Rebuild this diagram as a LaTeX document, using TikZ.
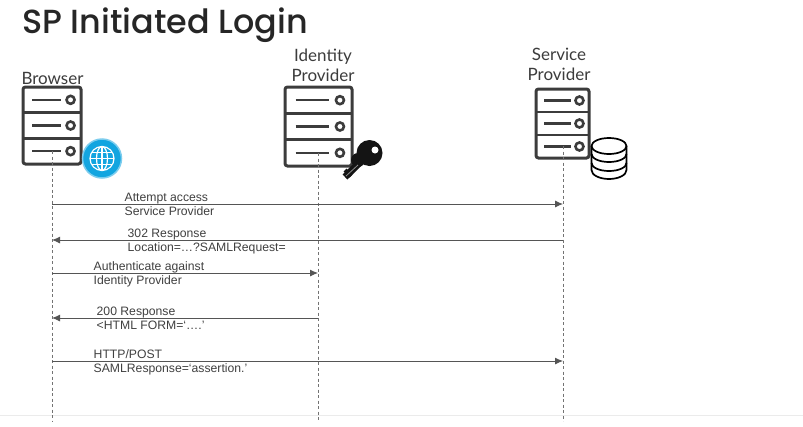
\documentclass[tikz,border=0pt]{standalone}
\usepackage{fontspec}
\setmainfont{Liberation Sans}
\newfontfamily\headfont{Poppins Medium}
\newfontfamily\labelfont{Lato}
\definecolor{ink}{HTML}{3C3C3C}
\definecolor{msg}{HTML}{555555}
\definecolor{bluecirc}{HTML}{12A5E0}
\usetikzlibrary{arrows.meta}
\tikzset{
  x=1pt,y=-1pt,
  titletext/.style={font=\headfont\fontsize{33.4}{34}\selectfont,text=black!85,inner sep=0,anchor=base west},
  actortext/.style={font=\labelfont\fontsize{17}{20}\selectfont,text=ink,inner sep=0,align=center,anchor=south},
  msgtext/.style={font=\fontsize{12.2}{14}\selectfont,text=black!75,inner sep=0,align=left,anchor=north west},
  lifeline/.style={draw=black!55,line width=0.7pt,dash pattern=on 3pt off 2.5pt},
  msgline/.style={draw=msg,line width=0.9pt,-{Latex[length=8pt,width=7pt]}},
  srvbox/.style={draw=ink,line width=3pt,rounded corners=2.5pt,inner sep=0,outer sep=0,fill=white},
  srvline/.style={draw=ink,line width=2.6pt},
  srvdot/.style={draw=ink,line width=2.6pt,circle,inner sep=0,minimum size=8pt,fill=white},
  dbline/.style={draw=black,line width=1.7pt},
}
% #1 name, #2 left, #3 top, #4 width, #5 height
\newcommand{\serverbox}[5]{%
  \node[srvbox,minimum width=#4pt,minimum height=#5pt,anchor=north west] (#1) at (#2,#3) {};
  \foreach \k/\s in {1/a,2/b,3/c}{
    \path (#1.north west) ++(0.16*#4,{(\k-0.5)*#5/3}) coordinate (#1l\s)
          ++(0.5*#4,0) coordinate (#1r\s);
    \node[srvdot] (#1d\s) at ([xshift=0.16*#4 pt]#1r\s) {};
    \draw[srvline] (#1l\s) -- (#1r\s);
  }
  \draw[srvline] ([yshift={-#5/3*1pt}]#1.north west) -- ([yshift={-#5/3*1pt}]#1.north east);
  \draw[srvline] ([yshift={-2*#5/3*1pt}]#1.north west) -- ([yshift={-2*#5/3*1pt}]#1.north east);
}
\begin{document}
\begin{tikzpicture}
\useasboundingbox (0,0) rectangle (803,426);
\fill[white] (0,0) rectangle (803,426);
\draw[black!8,line width=1pt] (0,415.5) -- (803,415.5);

\node[titletext] (title) at (22,33) {SP Initiated Login};

\serverbox{brow}{23}{87}{58}{77}
\serverbox{idp}{285}{87}{67}{79}
\serverbox{sp}{536}{89}{53}{69}

\node[actortext] (browl) at (52.5,84.5) {Browser};
\node[actortext] (idpl) at (323,82) {Identity\\Provider};
\node[actortext] (spl) at (559,80.5) {Service\\Provider};

% globe
\node[circle,fill=bluecirc,draw=bluecirc!55,line width=1.5pt,minimum size=39pt,inner sep=0] (globe) at (102,158.5) {};
\begin{scope}[white,line width=1.2pt]
  \draw (globe.center) circle[radius=12];
  \draw (globe.center) ellipse[x radius=5.5,y radius=12];
  \draw ([xshift=-12pt]globe.center) -- ([xshift=12pt]globe.center);
  \draw ([xshift=-10.4pt,yshift=6pt]globe.center) -- ([xshift=10.4pt,yshift=6pt]globe.center);
  \draw ([xshift=-10.4pt,yshift=-6pt]globe.center) -- ([xshift=10.4pt,yshift=-6pt]globe.center);
  \draw ([yshift=-12pt]globe.center) -- ([yshift=12pt]globe.center);
\end{scope}

% key
\coordinate (keyhead) at (369.5,153);
\coordinate (keytip) at (345,177);
\draw[black!92,line width=7pt] (keyhead) -- (keytip);
\draw[black!92,line width=4pt] (345,170) -- (351,176);
\fill[black!92] (keyhead) circle[radius=13];
\fill[black!92] (358,160) circle[radius=7];
\fill[white] (375,150) circle[radius=3.5];
\draw[black!45,line width=0.8pt] (358,165) -- (346,176);

% database
\fill[white] (591.5,146) -- (591.5,170) arc[start angle=180,end angle=360,x radius=17.5pt,y radius=9pt] -- (626.5,146) -- cycle;
\draw[dbline] (591.5,146) -- (591.5,170) arc[start angle=180,end angle=360,x radius=17.5pt,y radius=9pt] -- (626.5,146);
\draw[dbline] (591.5,154) arc[start angle=180,end angle=360,x radius=17.5pt,y radius=8pt];
\draw[dbline] (591.5,163) arc[start angle=180,end angle=360,x radius=17.5pt,y radius=8pt];
\draw[dbline,fill=white] (609,146) ellipse[x radius=17.5,y radius=8];

% lifelines
\coordinate (brows) at (52,151);
\coordinate (idps) at (318,153);
\coordinate (sps) at (563,146);
\coordinate (browe) at (52,421);
\coordinate (idpe) at (318,421);
\coordinate (spe) at (563,421);
\draw[lifeline] (brows) -- (browe);
\draw[lifeline] (idps) -- (idpe);
\draw[lifeline] (sps) -- (spe);

% message anchors on the lifelines
\foreach \n/\yy in {1/204,2/240,3/273,4/318,5/361}{
  \coordinate (b\n) at (52,\yy);
  \coordinate (i\n) at (318,\yy);
  \coordinate (s\n) at (563,\yy);
}
\draw[msgline] (b1) -- (s1);
\draw[msgline] (s2) -- (b2);
\draw[msgline] (b3) -- (i3);
\draw[msgline] (i4) -- (b4);
\draw[msgline] (b5) -- (s5);

\node[msgtext] (m1) at (124.5,192.5) {Attempt access\\Service Provider};
\node[msgtext] (m2) at (127.5,228.5) {302 Response\\Location=…?SAMLRequest=};
\node[msgtext] (m3) at (93.5,261.5) {Authenticate against\\Identity Provider};
\node[msgtext] (m4) at (96.5,306.5) {200 Response\\<HTML FORM=‘….’};
\node[msgtext] (m5) at (93.5,349.5) {HTTP/POST\\SAMLResponse=‘assertion.’};
\end{tikzpicture}
\end{document}
